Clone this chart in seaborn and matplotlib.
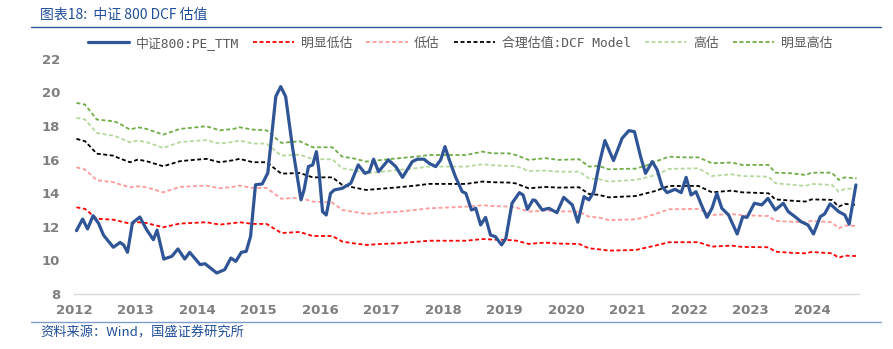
import matplotlib
matplotlib.use("Agg")
import matplotlib.pyplot as plt
import seaborn as sns
import pandas as pd
from matplotlib.lines import Line2D

# ---------------- data ----------------
pe_t = [2012.04, 2012.14, 2012.22, 2012.31, 2012.40, 2012.48, 2012.64, 2012.75, 2012.81, 2012.87,
        2012.95, 2013.07, 2013.18, 2013.29, 2013.35, 2013.46, 2013.59, 2013.69, 2013.80, 2013.88,
        2014.05, 2014.13, 2014.32, 2014.45, 2014.55, 2014.63, 2014.72, 2014.80, 2014.87, 2014.95,
        2015.06, 2015.15, 2015.28, 2015.36, 2015.44, 2015.55, 2015.69, 2015.74, 2015.81, 2015.88,
        2015.94, 2015.98, 2016.04, 2016.10, 2016.17, 2016.23, 2016.36, 2016.50, 2016.62, 2016.73,
        2016.80, 2016.87, 2016.95, 2017.11, 2017.23, 2017.34, 2017.50, 2017.58, 2017.69, 2017.77,
        2017.88, 2017.96, 2018.03, 2018.10, 2018.20, 2018.31, 2018.37, 2018.46, 2018.53, 2018.61,
        2018.69, 2018.77, 2018.85, 2018.95, 2019.02, 2019.12, 2019.24, 2019.30, 2019.37, 2019.46,
        2019.50, 2019.61, 2019.72, 2019.85, 2019.96, 2020.10, 2020.19, 2020.29, 2020.37, 2020.45,
        2020.54, 2020.63, 2020.77, 2020.91, 2021.02, 2021.11, 2021.21, 2021.29, 2021.40, 2021.48,
        2021.56, 2021.64, 2021.77, 2021.87, 2021.95, 2022.03, 2022.11, 2022.21, 2022.29, 2022.37,
        2022.45, 2022.53, 2022.64, 2022.78, 2022.87, 2022.94, 2023.06, 2023.18, 2023.28, 2023.40,
        2023.53, 2023.61, 2023.72, 2023.82, 2023.93, 2024.02, 2024.13, 2024.20, 2024.29, 2024.43,
        2024.53, 2024.60, 2024.71]
pe_v = [11.77, 12.46, 11.87, 12.66, 12.20, 11.50, 10.78, 11.07, 10.90, 10.48,
        12.23, 12.58, 11.83, 11.23, 11.80, 10.08, 10.24, 10.68, 10.08, 10.48,
        9.75, 9.80, 9.25, 9.45, 10.14, 9.94, 10.48, 10.54, 11.43, 14.50,
        14.55, 15.20, 19.75, 20.34, 19.75, 16.77, 13.60, 14.20, 15.58, 15.68,
        16.47, 15.38, 12.90, 12.70, 13.99, 14.19, 14.29, 14.59, 15.68, 15.18,
        15.28, 16.02, 15.28, 15.98, 15.58, 14.94, 15.88, 16.02, 16.02, 15.78,
        15.58, 15.98, 16.77, 15.98, 14.98, 14.09, 13.99, 13.00, 13.10, 12.11,
        12.56, 11.51, 11.41, 10.92, 11.31, 13.40, 14.03, 13.89, 13.04, 13.60,
        13.56, 13.00, 13.10, 12.84, 13.75, 13.30, 12.27, 13.79, 13.60, 14.09,
        15.78, 17.13, 15.94, 17.27, 17.72, 17.66, 16.17, 15.18, 15.88, 15.38,
        14.39, 14.03, 14.23, 14.03, 14.94, 13.89, 14.09, 13.20, 12.56, 13.10,
        13.99, 13.10, 12.70, 11.57, 12.60, 12.56, 13.40, 13.30, 13.69, 13.00,
        13.40, 12.90, 12.60, 12.30, 12.11, 11.57, 12.60, 12.76, 13.36, 12.90,
        12.70, 12.15, 14.49]

band_t = [2012.04, 2012.18, 2012.37, 2012.64, 2012.72, 2012.91, 2013.04, 2013.18, 2013.45, 2013.72,
          2013.88, 2014.15, 2014.37, 2014.59, 2014.69, 2014.91, 2015.13, 2015.37, 2015.67, 2015.88,
          2016.20, 2016.36, 2016.53, 2016.75, 2017.01, 2017.28, 2017.55, 2017.77, 2018.10, 2018.37,
          2018.64, 2018.80, 2019.07, 2019.18, 2019.39, 2019.66, 2019.88, 2020.21, 2020.37, 2020.53,
          2020.69, 2021.13, 2021.29, 2021.45, 2021.67, 2021.88, 2022.15, 2022.37, 2022.69, 2022.86,
          2023.29, 2023.40, 2023.67, 2023.89, 2023.99, 2024.32, 2024.43, 2024.53, 2024.72]
strong_high = [19.37, 19.27, 18.38, 18.28, 18.18, 17.78, 17.92, 17.82, 17.48, 17.82,
               17.88, 17.98, 17.74, 17.82, 17.92, 17.78, 17.74, 16.99, 17.09, 16.73,
               16.73, 16.17, 16.08, 15.88, 15.98, 16.08, 16.17, 16.27, 16.27, 16.27,
               16.47, 16.37, 16.37, 16.27, 15.98, 16.08, 15.98, 16.02, 15.58, 15.62,
               15.42, 15.46, 15.62, 15.88, 16.17, 16.13, 16.13, 15.78, 15.82, 15.68,
               15.68, 15.22, 15.18, 15.08, 15.22, 15.22, 14.79, 14.94, 14.88]
high = [18.48, 18.38, 17.58, 17.42, 17.32, 17.03, 17.13, 17.03, 16.69, 17.03,
        17.09, 17.15, 16.95, 17.05, 17.13, 16.95, 16.95, 16.23, 16.29, 16.02,
        16.02, 15.48, 15.38, 15.18, 15.28, 15.38, 15.48, 15.58, 15.58, 15.58,
        15.72, 15.66, 15.62, 15.62, 15.32, 15.34, 15.28, 15.28, 14.88, 14.84,
        14.69, 14.79, 14.92, 15.08, 15.44, 15.46, 15.48, 15.02, 15.12, 15.02,
        14.98, 14.59, 14.50, 14.43, 14.55, 14.49, 14.09, 14.25, 14.29]
fair = [17.23, 17.09, 16.35, 16.23, 16.10, 15.84, 16.00, 15.90, 15.60, 15.90,
        15.96, 16.04, 15.84, 15.96, 16.04, 15.84, 15.84, 15.16, 15.20, 14.94,
        14.94, 14.49, 14.35, 14.19, 14.27, 14.35, 14.45, 14.55, 14.55, 14.55,
        14.69, 14.65, 14.63, 14.58, 14.29, 14.37, 14.33, 14.35, 13.95, 13.90,
        13.75, 13.83, 13.98, 14.13, 14.43, 14.43, 14.43, 14.05, 14.15, 14.05,
        13.99, 13.63, 13.55, 13.50, 13.63, 13.60, 13.20, 13.36, 13.30]
low = [15.54, 15.40, 14.77, 14.65, 14.55, 14.35, 14.41, 14.35, 14.05, 14.37,
       14.40, 14.45, 14.29, 14.38, 14.45, 14.31, 14.31, 13.67, 13.73, 13.50,
       13.44, 13.00, 12.90, 12.76, 12.84, 12.90, 13.00, 13.10, 13.15, 13.20,
       13.28, 13.24, 13.20, 13.16, 12.90, 12.96, 12.92, 12.90, 12.60, 12.55,
       12.40, 12.44, 12.58, 12.76, 13.04, 13.05, 13.06, 12.70, 12.76, 12.68,
       12.64, 12.35, 12.30, 12.27, 12.35, 12.27, 11.91, 12.07, 12.05]
strong_low = [13.16, 13.06, 12.48, 12.42, 12.35, 12.19, 12.27, 12.22, 11.97, 12.19,
              12.22, 12.27, 12.13, 12.22, 12.27, 12.17, 12.17, 11.63, 11.69, 11.45,
              11.45, 11.12, 11.02, 10.92, 10.98, 11.02, 11.10, 11.17, 11.17, 11.17,
              11.27, 11.24, 11.21, 11.18, 10.98, 11.06, 11.00, 10.98, 10.72, 10.66,
              10.58, 10.62, 10.75, 10.88, 11.08, 11.08, 11.08, 10.82, 10.88, 10.80,
              10.78, 10.52, 10.45, 10.42, 10.50, 10.42, 10.16, 10.28, 10.26]

year_ticks = [2012, 2013, 2014, 2015, 2016, 2017, 2018, 2019, 2020, 2021, 2022, 2023, 2024]
y_ticks = [8, 10, 12, 14, 16, 18, 20, 22]

labels = ["中证800:PE_TTM", "明显低估", "低估", "合理估值:DCF Model", "高估", "明显高估"]
colors = ["#2F5597", "#FF0000", "#FF9A9A", "#000000", "#B4D89C", "#70AD47"]

# ---------------- figure ----------------
sns.set_theme(style="white")
plt.rcParams["font.family"] = ["Noto Sans CJK SC", "DejaVu Sans"]

fig = plt.figure(figsize=(8.93, 3.49), dpi=100)
ax = fig.add_axes([74 / 893, 1 - 294 / 349, (859 - 74) / 893, (294 - 58.7) / 349])

series = [strong_low, low, fair, high, strong_high]
for vals, col in zip(series, colors[1:]):
    d = pd.DataFrame({"t": band_t, "v": vals})
    sns.lineplot(data=d, x="t", y="v", ax=ax, color=col, lw=1.3,
                 linestyle=(0, (2.2, 1.4)), legend=False)

pe_df = pd.DataFrame({"t": pe_t, "v": pe_v})
sns.lineplot(data=pe_df, x="t", y="v", ax=ax, color=colors[0], lw=2.3, legend=False)

ax.set_xlim(2012.0, 2024.76)
ax.set_ylim(8, 22)
ax.set_xticks(year_ticks)
ax.set_xticklabels([str(y) for y in year_ticks])
ax.set_yticks(y_ticks)
ax.set_xlabel("")
ax.set_ylabel("")
for s in ["top", "right", "left"]:
    ax.spines[s].set_visible(False)
ax.spines["bottom"].set_color("#D9D9D9")
ax.spines["bottom"].set_linewidth(1.0)
ax.tick_params(axis="x", which="major", length=4, color="#D9D9D9", direction="out",
               labelsize=9.5, labelcolor="#7F7F7F", pad=3)
ax.tick_params(axis="y", which="major", length=0, labelsize=9.5, labelcolor="#7F7F7F", pad=10)
for t in ax.get_xticklabels() + ax.get_yticklabels():
    t.set_fontweight("bold")
    t.set_family(["DejaVu Sans"])

# legend
handles = [Line2D([0], [0], color=colors[0], lw=2.3)]
for c in colors[1:]:
    handles.append(Line2D([0], [0], color=c, lw=1.3, linestyle=(0, (2.2, 1.4))))
leg = fig.legend(handles, labels, loc="center", bbox_to_anchor=(0.515, 1 - 43 / 349),
                 ncol=6, frameon=False, fontsize=9.3, handlelength=3.2,
                 columnspacing=1.1, handletextpad=0.5)
for t in leg.get_texts():
    t.set_color("#595959")
    t.set_family(["DejaVu Sans Mono", "Noto Sans CJK SC"])

# title, rules and source
fig.text(40 / 893, 1 - 15 / 349, "图表18:  中证 800 DCF 估值", fontsize=10, color="#1F4E9A",
         style="italic", va="center", ha="left")
fig.add_artist(Line2D([31 / 893, 881 / 893], [1 - 27 / 349, 1 - 27 / 349], color="#2F5597", lw=1.0))
fig.add_artist(Line2D([31 / 893, 881 / 893], [1 - 322 / 349, 1 - 322 / 349], color="#7F9CCB", lw=1.0))
fig.text(40 / 893, 1 - 333 / 349, "资料来源：Wind，国盛证券研究所", fontsize=9.5, color="#1F4E9A",
         style="italic", va="center", ha="left")

fig.savefig("out.png", dpi=100)
